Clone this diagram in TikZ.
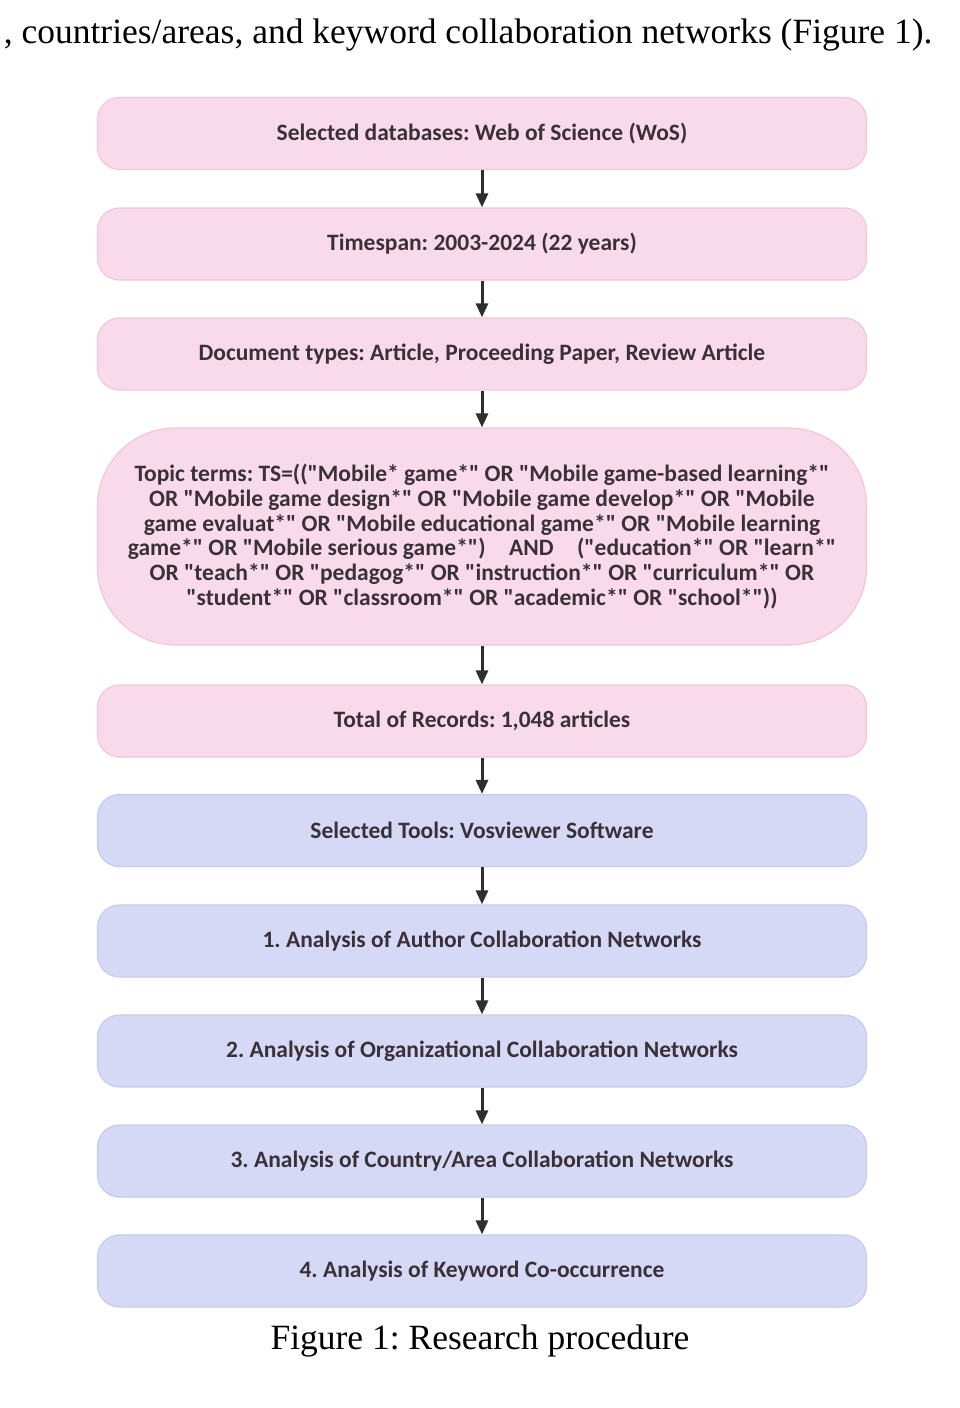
\documentclass[tikz,border=0pt]{standalone}
\usepackage{fontspec}
\setmainfont{Liberation Serif}
\newfontfamily\boxfont{Carlito}
\usetikzlibrary{arrows.meta}
\definecolor{pinkfill}{HTML}{F9DAEA}
\definecolor{pinkline}{HTML}{F2C6DA}
\definecolor{bluefill}{HTML}{D6D9F6}
\definecolor{blueline}{HTML}{C6CAEE}
\definecolor{txt}{HTML}{3A3038}
\tikzset{
  x=1pt, y=-1pt,
  base/.style={rounded corners=22pt, minimum width=769pt, minimum height=72pt,
    font=\boxfont\bfseries\fontsize{23.5}{24.8}\selectfont\frenchspacing, text=txt, align=center, line width=1.2pt},
  pinkbox/.style={base, fill=pinkfill, draw=pinkline},
  bluebox/.style={base, fill=bluefill, draw=blueline},
  flow/.style={-{Triangle[length=14pt,width=12pt]}, line width=3pt, draw=black!82},
  serif/.style={font=\fontsize{35.5}{38}\selectfont\frenchspacing, text=black}
}
\begin{document}
\begin{tikzpicture}
\useasboundingbox (0,0) rectangle (960,1408);
\node[serif, anchor=base east] (top) at (936,43) {, countries/areas, and keyword collaboration networks (Figure 1).};
\node[pinkbox] (b1) at (482,133.5) {Selected databases: Web of Science (WoS)};
\node[pinkbox] (b2) at (482,244) {Timespan: 2003-2024 (22 years)};
\node[pinkbox] (b3) at (482,354) {Document types: Article, Proceeding Paper, Review Article};
\node[pinkbox, minimum height=217pt, rounded corners=78pt] (b4) at (482,536.5) {Topic terms: TS=(("Mobile* game*" OR "Mobile game-based learning*"\\ OR "Mobile game design*" OR "Mobile game develop*" OR "Mobile\\ game evaluat*" OR "Mobile educational game*" OR "Mobile learning\\ game*" OR "Mobile serious game*")\quad AND\quad ("education*" OR "learn*"\\ OR "teach*" OR "pedagog*" OR "instruction*" OR "curriculum*" OR\\ "student*" OR "classroom*" OR "academic*" OR "school*"))};
\node[pinkbox] (b5) at (482,721) {Total of Records: 1,048 articles};
\node[bluebox] (b6) at (482,830.5) {Selected Tools: Vosviewer Software};
\node[bluebox] (b7) at (482,941) {1. Analysis of Author Collaboration Networks};
\node[bluebox] (b8) at (482,1051) {2. Analysis of Organizational Collaboration Networks};
\node[bluebox] (b9) at (482,1161) {3. Analysis of Country/Area Collaboration Networks};
\node[bluebox] (b10) at (482,1271) {4. Analysis of Keyword Co-occurrence};
\node[serif] (cap) at (480,1341) {Figure 1: Research procedure};
\foreach \a/\b in {b1/b2,b2/b3,b3/b4,b4/b5,b5/b6,b6/b7,b7/b8,b8/b9,b9/b10}
  \draw[flow] (\a.south) -- (\b.north);
\end{tikzpicture}
\end{document}
